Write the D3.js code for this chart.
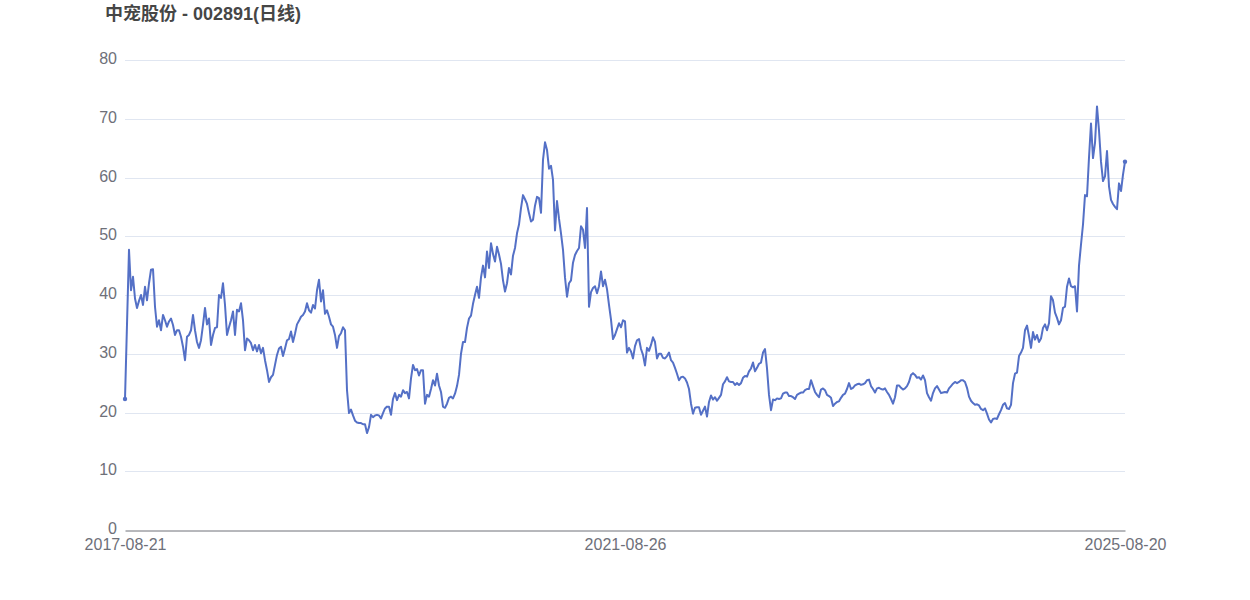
<!DOCTYPE html>
<html><head><meta charset="utf-8">
<script src="https://cdn.jsdelivr.net/npm/d3@7/dist/d3.min.js"></script>
<style>body{margin:0;background:#fff;}svg{display:block;}</style>
</head><body>
<svg id="chart" width="1250" height="600"></svg>
<script>
const title = "中宠股份 - 002891(日线)";
const yTicks = [0, 10, 20, 30, 40, 50, 60, 70, 80];
const xTickLabels = ["2017-08-21", "2021-08-26", "2025-08-20"];
const closePrices = [
22.3,35,47.7,40.8,43.1,39.4,37.8,39,40,38.3,
41.4,39.1,42,44.3,44.4,38,34.6,35.7,34,36.6,
35.7,34.6,35.5,36,34.9,33.2,34,34,32.9,31.2,
28.9,32.9,33.2,34,36.6,34,32,31,32.3,34.9,
37.8,35,36,31.5,33.2,34.4,34.5,40,39.5,42,
38.3,33.2,34.5,35.7,37.2,33.2,37.5,37.2,38.6,35.7,
30.6,32.6,32.3,31.8,30.6,31.5,30.4,31.5,30.1,31,
28.9,27.2,25.2,26,26.4,28.1,29.8,30.9,31.2,29.6,
30.9,32.3,32.5,33.8,32,33.4,35,35.6,36.3,36.6,
37.2,38.6,37.4,37,38.3,37.7,40.8,42.6,38.9,40.8,
36.8,37.4,36.3,35,34.6,33.2,31,33,33.5,34.5,
34,23.8,19.9,20.5,19.5,18.6,18.3,18.2,18.2,18,
18,16.5,17.5,19.6,19.2,19.5,19.6,19.5,19,19.9,
20.7,21,21,19.6,22.3,23.3,22.1,23,22.7,23.8,
23.3,23.5,22.4,25.8,28.1,27.2,27.4,26.3,27.2,27.2,
21.5,23,22.7,24,25.5,24.6,26.6,24.6,23.5,21,
20.8,21.5,22.5,22.7,22.4,23.2,24.5,26.4,30,32,
32,34.4,36,36.5,38.5,40,41.4,39.5,43,45,
43,47.4,44.6,48.8,47,45.7,48.2,46.9,45.3,42.5,
40.6,42,44.6,43.5,46.7,48,50.5,52,54.8,57,
56.3,55.5,53.9,52.5,52.8,55.2,56.7,56.5,54,63,
66,64.7,61.5,62,59.6,51,56,53,50.5,47.7,
43,39.7,42,42.5,45.5,46.8,47.5,48,51.7,51.1,
48,54.8,38,40.5,41.2,41.5,40.3,41.5,44,41.5,
42.6,41,38.3,35.8,32.5,33.2,34.2,35.2,34.5,35.7,
35.5,30.2,31,30.4,29.2,31.3,32.3,32.5,30.8,29.8,
28,31,30.5,31.5,32.8,32,29.2,30,30,29.3,
29.2,29.6,30.2,28.9,28.5,27.6,26.6,25.5,26,26.1,
25.8,25.1,24,21.5,19.8,20.8,20.9,20.9,19.6,20.3,
21,19.3,21.8,22.9,22.2,22.6,22,22.5,23,24.8,
25.3,26,25.3,25.2,25.2,24.7,25,24.7,25,25.9,
26.2,26.1,27,27.5,28.5,27,27.6,28.3,28.5,30.2,
30.8,27.5,23,20.4,22.2,22.1,22.4,22.3,22.4,23.2,
23.4,23.4,22.8,22.8,22.6,22.3,23,23.2,23.4,23.4,
23.8,24,24,25.5,24.5,23.5,23,22.6,23.9,24.1,
23.8,23,22.8,22.5,21.1,21.5,21.8,21.9,22.5,23,
23.2,24,25,24,24.2,24.6,24.8,24.9,24.7,24.8,
25,25.5,25.6,24.5,24,23.4,24.1,24.2,24,23.9,
24.1,23.5,23,22.3,21.5,22.6,24.6,24.6,24.2,23.9,
24.1,24.5,25.2,26.4,26.7,26.4,25.9,26,25.6,26.3,
25.5,23.3,22.6,22,23.3,24.1,24.5,23.9,23.3,23.4,
23.5,23.4,24.1,24.5,24.9,25.2,25,25.2,25.5,25.5,
25.2,24.2,22.7,22,21.6,21.3,21.4,21.2,20.6,20.4,
20.7,19.8,18.8,18.3,18.9,19,18.9,19.7,20.4,21.3,
21.6,20.7,20.6,21.3,25,26.6,26.8,29.6,30.2,31,
34,34.8,33,31,33.7,32.4,33.2,32,32.6,34.4,
35,34,35.2,39.8,39.1,37,36.1,35,35.7,37.8,
38,41.4,42.8,41.5,41.3,41.5,37.2,45,48.6,52,
57,56.8,63.4,69.2,63.3,65.9,72.1,68,62.7,59.4,
60.2,64.5,58.5,56.2,55.5,55,54.6,59,57.7,60.5,
62.7
];

const margin = {left: 125, right: 125, top: 60, bottom: 70};
const W = 1250, H = 600;
const svg = d3.select("#chart");
const n = closePrices.length;
const x = d3.scaleLinear().domain([0, n - 1]).range([margin.left, W - margin.right]);
const y = d3.scaleLinear().domain([0, 80]).range([H - margin.bottom, margin.top]);
const xTickIdx = [0, Math.floor((n - 1) / 2), n - 1];

// grid lines
svg.append("g").selectAll("line").data(yTicks.filter(d => d > 0)).join("line")
  .attr("x1", margin.left).attr("x2", W - margin.right)
  .attr("y1", d => Math.round(y(d)) + 0.5).attr("y2", d => Math.round(y(d)) + 0.5)
  .attr("stroke", "#E0E6F1").attr("stroke-width", 1);

// y axis labels
const yAxis = d3.axisLeft(y).tickValues(yTicks).tickSize(0).tickPadding(8);
const gy = svg.append("g").attr("transform", `translate(${margin.left},-1.5)`).call(yAxis);
gy.select(".domain").remove();
gy.selectAll("text").attr("fill", "#6E7079").style("font-family", "Liberation Sans, Arial, sans-serif").style("font-size", "16px");

// x axis
const xAxis = d3.axisBottom(x).tickValues(xTickIdx).tickFormat((d, i) => xTickLabels[i]).tickSize(0).tickPadding(8);
const gx = svg.append("g").attr("transform", `translate(0,${Math.round(y(0)) + 0.5})`).call(xAxis);
gx.select(".domain").attr("stroke", "#6E7079").attr("stroke-width", 1);
gx.selectAll("text").attr("fill", "#6E7079").style("font-family", "Liberation Sans, Arial, sans-serif").style("font-size", "16px");

// line
const line = d3.line().x((d, i) => x(i)).y(d => y(d));
svg.append("path").datum(closePrices)
  .attr("d", line).attr("fill", "none")
  .attr("stroke", "#5470C6").attr("stroke-width", 2).attr("stroke-linejoin", "round");

// end symbols
svg.append("g").selectAll("circle").data([0, n - 1]).join("circle")
  .attr("cx", i => x(i)).attr("cy", i => y(closePrices[i])).attr("r", 2.2)
  .attr("fill", "#5470C6");

// title
svg.append("text").attr("x", 105).attr("y", 19.5).text(title)
  .attr("fill", "#464646").style("font-weight", "bold").style("font-size", "18px")
  .style("font-family", "Liberation Sans, 'Noto Sans CJK SC', sans-serif");
</script>
</body></html>
